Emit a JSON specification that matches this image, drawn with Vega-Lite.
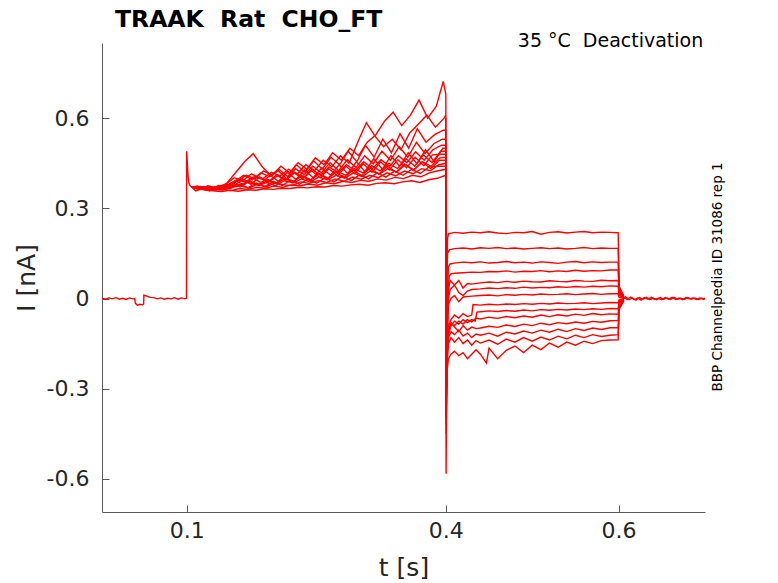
{
  "$schema": "https://vega.github.io/schema/vega-lite/v6.json",
  "description": "TRAAK Rat CHO_FT deactivation current traces",
  "width": 603,
  "height": 469,
  "autosize": {"type": "none"},
  "padding": {"left": 102, "top": 43, "right": 73, "bottom": 71},
  "background": "white",
  "title": {
    "text": "TRAAK\u00a0\u00a0Rat\u00a0\u00a0CHO_FT",
    "anchor": "start",
    "frame": "group",
    "dx": 13,
    "dy": 11,
    "offset": 11,
    "font": "DejaVu Sans",
    "fontSize": 23.5,
    "fontWeight": "bold",
    "color": "black"
  },
  "config": {
    "view": {"stroke": null},
    "axis": {
      "grid": false,
      "domainColor": "#5a5a5a",
      "tickColor": "#5a5a5a",
      "labelColor": "#262626",
      "titleColor": "#262626",
      "labelFont": "DejaVu Sans",
      "titleFont": "DejaVu Sans",
      "labelFontSize": 22,
      "titleFontSize": 25,
      "titleFontWeight": "normal",
      "tickSize": -7,
      "domainWidth": 1,
      "tickWidth": 1
    }
  },
  "layer": [
    {
      "data": {"values": [
        {"s":"b","t":0.002,"i":0.001},{"s":"b","t":0.006,"i":-0.002},{"s":"b","t":0.010,"i":0.002},{"s":"b","t":0.014,"i":-0.001},{"s":"b","t":0.018,"i":0.003},{"s":"b","t":0.022,"i":-0.002},{"s":"b","t":0.026,"i":0.001},{"s":"b","t":0.030,"i":-0.003},{"s":"b","t":0.034,"i":0.002},{"s":"b","t":0.038,"i":-0.001},{"s":"b","t":0.040,"i":0.0},{"s":"b","t":0.0405,"i":-0.015},{"s":"b","t":0.043,"i":-0.022},{"s":"b","t":0.046,"i":-0.019},{"s":"b","t":0.049,"i":-0.021},{"s":"b","t":0.0502,"i":-0.018},{"s":"b","t":0.0505,"i":0.011},{"s":"b","t":0.054,"i":0.008},{"s":"b","t":0.058,"i":0.004},{"s":"b","t":0.062,"i":0.003},{"s":"b","t":0.066,"i":-0.001},{"s":"b","t":0.070,"i":0.002},{"s":"b","t":0.074,"i":-0.002},{"s":"b","t":0.078,"i":0.001},{"s":"b","t":0.082,"i":-0.001},{"s":"b","t":0.086,"i":0.003},{"s":"b","t":0.090,"i":-0.002},{"s":"b","t":0.094,"i":0.002},{"s":"b","t":0.098,"i":-0.001},{"s":"b","t":0.0998,"i":0.001},{"s":"b","t":0.1,"i":0.49},{"s":"b","t":0.1006,"i":0.46},{"s":"b","t":0.1015,"i":0.41},{"s":"b","t":0.1025,"i":0.385},{"s":"b","t":0.104,"i":0.375},{"s":"b","t":0.106,"i":0.37},

        {"s":"p0","t":0.106,"i":0.37},{"s":"p0","t":0.110,"i":0.368},{"s":"p0","t":0.120,"i":0.362},{"s":"p0","t":0.130,"i":0.358},{"s":"p0","t":0.140,"i":0.356},{"s":"p0","t":0.150,"i":0.360},{"s":"p0","t":0.160,"i":0.357},{"s":"p0","t":0.170,"i":0.362},{"s":"p0","t":0.180,"i":0.360},{"s":"p0","t":0.190,"i":0.365},{"s":"p0","t":0.200,"i":0.363},{"s":"p0","t":0.210,"i":0.367},{"s":"p0","t":0.220,"i":0.366},{"s":"p0","t":0.230,"i":0.370},{"s":"p0","t":0.240,"i":0.368},{"s":"p0","t":0.250,"i":0.372},{"s":"p0","t":0.260,"i":0.371},{"s":"p0","t":0.270,"i":0.376},{"s":"p0","t":0.280,"i":0.374},{"s":"p0","t":0.290,"i":0.378},{"s":"p0","t":0.300,"i":0.380},{"s":"p0","t":0.310,"i":0.377},{"s":"p0","t":0.320,"i":0.383},{"s":"p0","t":0.330,"i":0.385},{"s":"p0","t":0.340,"i":0.382},{"s":"p0","t":0.350,"i":0.388},{"s":"p0","t":0.360,"i":0.392},{"s":"p0","t":0.370,"i":0.386},{"s":"p0","t":0.380,"i":0.395},{"s":"p0","t":0.390,"i":0.400},{"s":"p0","t":0.4,"i":0.41},

        {"s":"p1","t":0.106,"i":0.37},{"s":"p1","t":0.111,"i":0.372},{"s":"p1","t":0.121,"i":0.366},{"s":"p1","t":0.131,"i":0.360},{"s":"p1","t":0.141,"i":0.364},{"s":"p1","t":0.151,"i":0.359},{"s":"p1","t":0.161,"i":0.366},{"s":"p1","t":0.171,"i":0.363},{"s":"p1","t":0.181,"i":0.370},{"s":"p1","t":0.191,"i":0.367},{"s":"p1","t":0.201,"i":0.374},{"s":"p1","t":0.211,"i":0.370},{"s":"p1","t":0.221,"i":0.378},{"s":"p1","t":0.231,"i":0.375},{"s":"p1","t":0.241,"i":0.381},{"s":"p1","t":0.251,"i":0.377},{"s":"p1","t":0.261,"i":0.385},{"s":"p1","t":0.271,"i":0.382},{"s":"p1","t":0.281,"i":0.390},{"s":"p1","t":0.291,"i":0.386},{"s":"p1","t":0.301,"i":0.393},{"s":"p1","t":0.311,"i":0.390},{"s":"p1","t":0.321,"i":0.398},{"s":"p1","t":0.331,"i":0.394},{"s":"p1","t":0.341,"i":0.403},{"s":"p1","t":0.351,"i":0.399},{"s":"p1","t":0.361,"i":0.410},{"s":"p1","t":0.371,"i":0.405},{"s":"p1","t":0.381,"i":0.418},{"s":"p1","t":0.391,"i":0.425},{"s":"p1","t":0.4,"i":0.43},

        {"s":"p2","t":0.106,"i":0.37},{"s":"p2","t":0.112,"i":0.370},{"s":"p2","t":0.122,"i":0.364},{"s":"p2","t":0.132,"i":0.366},{"s":"p2","t":0.142,"i":0.361},{"s":"p2","t":0.152,"i":0.370},{"s":"p2","t":0.162,"i":0.375},{"s":"p2","t":0.172,"i":0.368},{"s":"p2","t":0.182,"i":0.380},{"s":"p2","t":0.192,"i":0.372},{"s":"p2","t":0.202,"i":0.384},{"s":"p2","t":0.212,"i":0.378},{"s":"p2","t":0.222,"i":0.376},{"s":"p2","t":0.232,"i":0.388},{"s":"p2","t":0.242,"i":0.383},{"s":"p2","t":0.252,"i":0.392},{"s":"p2","t":0.262,"i":0.386},{"s":"p2","t":0.272,"i":0.398},{"s":"p2","t":0.282,"i":0.390},{"s":"p2","t":0.292,"i":0.404},{"s":"p2","t":0.302,"i":0.397},{"s":"p2","t":0.312,"i":0.410},{"s":"p2","t":0.322,"i":0.402},{"s":"p2","t":0.332,"i":0.418},{"s":"p2","t":0.342,"i":0.408},{"s":"p2","t":0.352,"i":0.424},{"s":"p2","t":0.362,"i":0.415},{"s":"p2","t":0.372,"i":0.432},{"s":"p2","t":0.382,"i":0.425},{"s":"p2","t":0.392,"i":0.445},{"s":"p2","t":0.4,"i":0.45},

        {"s":"p3","t":0.106,"i":0.37},{"s":"p3","t":0.113,"i":0.366},{"s":"p3","t":0.123,"i":0.370},{"s":"p3","t":0.133,"i":0.362},{"s":"p3","t":0.143,"i":0.368},{"s":"p3","t":0.153,"i":0.372},{"s":"p3","t":0.163,"i":0.380},{"s":"p3","t":0.173,"i":0.390},{"s":"p3","t":0.183,"i":0.378},{"s":"p3","t":0.193,"i":0.386},{"s":"p3","t":0.203,"i":0.375},{"s":"p3","t":0.213,"i":0.392},{"s":"p3","t":0.223,"i":0.384},{"s":"p3","t":0.233,"i":0.398},{"s":"p3","t":0.243,"i":0.388},{"s":"p3","t":0.253,"i":0.404},{"s":"p3","t":0.263,"i":0.395},{"s":"p3","t":0.273,"i":0.410},{"s":"p3","t":0.283,"i":0.400},{"s":"p3","t":0.293,"i":0.418},{"s":"p3","t":0.303,"i":0.405},{"s":"p3","t":0.313,"i":0.425},{"s":"p3","t":0.323,"i":0.414},{"s":"p3","t":0.333,"i":0.432},{"s":"p3","t":0.343,"i":0.420},{"s":"p3","t":0.353,"i":0.445},{"s":"p3","t":0.363,"i":0.428},{"s":"p3","t":0.373,"i":0.455},{"s":"p3","t":0.383,"i":0.440},{"s":"p3","t":0.393,"i":0.468},{"s":"p3","t":0.4,"i":0.47},

        {"s":"p4","t":0.106,"i":0.37},{"s":"p4","t":0.114,"i":0.371},{"s":"p4","t":0.124,"i":0.365},{"s":"p4","t":0.134,"i":0.368},{"s":"p4","t":0.144,"i":0.372},{"s":"p4","t":0.154,"i":0.385},{"s":"p4","t":0.164,"i":0.398},{"s":"p4","t":0.174,"i":0.385},{"s":"p4","t":0.184,"i":0.376},{"s":"p4","t":0.194,"i":0.395},{"s":"p4","t":0.204,"i":0.382},{"s":"p4","t":0.214,"i":0.400},{"s":"p4","t":0.224,"i":0.390},{"s":"p4","t":0.234,"i":0.408},{"s":"p4","t":0.244,"i":0.395},{"s":"p4","t":0.254,"i":0.415},{"s":"p4","t":0.264,"i":0.400},{"s":"p4","t":0.274,"i":0.425},{"s":"p4","t":0.284,"i":0.410},{"s":"p4","t":0.294,"i":0.432},{"s":"p4","t":0.304,"i":0.418},{"s":"p4","t":0.314,"i":0.442},{"s":"p4","t":0.324,"i":0.425},{"s":"p4","t":0.334,"i":0.450},{"s":"p4","t":0.344,"i":0.432},{"s":"p4","t":0.354,"i":0.465},{"s":"p4","t":0.364,"i":0.440},{"s":"p4","t":0.374,"i":0.478},{"s":"p4","t":0.384,"i":0.452},{"s":"p4","t":0.394,"i":0.490},{"s":"p4","t":0.4,"i":0.49},

        {"s":"p5","t":0.106,"i":0.37},{"s":"p5","t":0.115,"i":0.369},{"s":"p5","t":0.125,"i":0.363},{"s":"p5","t":0.135,"i":0.370},{"s":"p5","t":0.145,"i":0.380},{"s":"p5","t":0.155,"i":0.402},{"s":"p5","t":0.165,"i":0.392},{"s":"p5","t":0.175,"i":0.415},{"s":"p5","t":0.185,"i":0.400},{"s":"p5","t":0.195,"i":0.388},{"s":"p5","t":0.205,"i":0.408},{"s":"p5","t":0.215,"i":0.395},{"s":"p5","t":0.225,"i":0.420},{"s":"p5","t":0.235,"i":0.402},{"s":"p5","t":0.245,"i":0.430},{"s":"p5","t":0.255,"i":0.410},{"s":"p5","t":0.265,"i":0.438},{"s":"p5","t":0.275,"i":0.418},{"s":"p5","t":0.285,"i":0.445},{"s":"p5","t":0.295,"i":0.425},{"s":"p5","t":0.305,"i":0.455},{"s":"p5","t":0.315,"i":0.432},{"s":"p5","t":0.325,"i":0.462},{"s":"p5","t":0.335,"i":0.440},{"s":"p5","t":0.345,"i":0.475},{"s":"p5","t":0.355,"i":0.452},{"s":"p5","t":0.365,"i":0.488},{"s":"p5","t":0.375,"i":0.460},{"s":"p5","t":0.385,"i":0.495},{"s":"p5","t":0.395,"i":0.510},{"s":"p5","t":0.4,"i":0.51},

        {"s":"p6","t":0.106,"i":0.37},{"s":"p6","t":0.116,"i":0.373},{"s":"p6","t":0.126,"i":0.367},{"s":"p6","t":0.136,"i":0.364},{"s":"p6","t":0.146,"i":0.376},{"s":"p6","t":0.156,"i":0.390},{"s":"p6","t":0.166,"i":0.410},{"s":"p6","t":0.176,"i":0.395},{"s":"p6","t":0.186,"i":0.418},{"s":"p6","t":0.196,"i":0.405},{"s":"p6","t":0.206,"i":0.425},{"s":"p6","t":0.216,"i":0.398},{"s":"p6","t":0.226,"i":0.432},{"s":"p6","t":0.236,"i":0.412},{"s":"p6","t":0.246,"i":0.440},{"s":"p6","t":0.256,"i":0.418},{"s":"p6","t":0.266,"i":0.452},{"s":"p6","t":0.276,"i":0.425},{"s":"p6","t":0.286,"i":0.462},{"s":"p6","t":0.296,"i":0.435},{"s":"p6","t":0.306,"i":0.475},{"s":"p6","t":0.316,"i":0.448},{"s":"p6","t":0.326,"i":0.490},{"s":"p6","t":0.336,"i":0.460},{"s":"p6","t":0.346,"i":0.505},{"s":"p6","t":0.356,"i":0.470},{"s":"p6","t":0.366,"i":0.520},{"s":"p6","t":0.376,"i":0.482},{"s":"p6","t":0.386,"i":0.515},{"s":"p6","t":0.396,"i":0.530},{"s":"p6","t":0.4,"i":0.53},

        {"s":"p7","t":0.106,"i":0.37},{"s":"p7","t":0.117,"i":0.367},{"s":"p7","t":0.127,"i":0.372},{"s":"p7","t":0.137,"i":0.365},{"s":"p7","t":0.147,"i":0.385},{"s":"p7","t":0.157,"i":0.420},{"s":"p7","t":0.167,"i":0.455},{"s":"p7","t":0.177,"i":0.482},{"s":"p7","t":0.187,"i":0.440},{"s":"p7","t":0.197,"i":0.410},{"s":"p7","t":0.207,"i":0.430},{"s":"p7","t":0.217,"i":0.405},{"s":"p7","t":0.227,"i":0.445},{"s":"p7","t":0.237,"i":0.420},{"s":"p7","t":0.247,"i":0.458},{"s":"p7","t":0.257,"i":0.430},{"s":"p7","t":0.267,"i":0.470},{"s":"p7","t":0.277,"i":0.445},{"s":"p7","t":0.287,"i":0.490},{"s":"p7","t":0.297,"i":0.455},{"s":"p7","t":0.307,"i":0.510},{"s":"p7","t":0.317,"i":0.470},{"s":"p7","t":0.327,"i":0.530},{"s":"p7","t":0.337,"i":0.485},{"s":"p7","t":0.347,"i":0.548},{"s":"p7","t":0.357,"i":0.500},{"s":"p7","t":0.367,"i":0.565},{"s":"p7","t":0.377,"i":0.520},{"s":"p7","t":0.387,"i":0.545},{"s":"p7","t":0.397,"i":0.560},{"s":"p7","t":0.4,"i":0.56},

        {"s":"p8","t":0.106,"i":0.37},{"s":"p8","t":0.118,"i":0.370},{"s":"p8","t":0.128,"i":0.364},{"s":"p8","t":0.138,"i":0.368},{"s":"p8","t":0.148,"i":0.378},{"s":"p8","t":0.158,"i":0.395},{"s":"p8","t":0.168,"i":0.388},{"s":"p8","t":0.178,"i":0.405},{"s":"p8","t":0.188,"i":0.398},{"s":"p8","t":0.198,"i":0.420},{"s":"p8","t":0.208,"i":0.408},{"s":"p8","t":0.218,"i":0.430},{"s":"p8","t":0.228,"i":0.415},{"s":"p8","t":0.238,"i":0.445},{"s":"p8","t":0.248,"i":0.425},{"s":"p8","t":0.258,"i":0.460},{"s":"p8","t":0.268,"i":0.438},{"s":"p8","t":0.278,"i":0.475},{"s":"p8","t":0.288,"i":0.450},{"s":"p8","t":0.298,"i":0.520},{"s":"p8","t":0.308,"i":0.585},{"s":"p8","t":0.318,"i":0.540},{"s":"p8","t":0.328,"i":0.505},{"s":"p8","t":0.338,"i":0.530},{"s":"p8","t":0.348,"i":0.495},{"s":"p8","t":0.358,"i":0.550},{"s":"p8","t":0.368,"i":0.580},{"s":"p8","t":0.378,"i":0.610},{"s":"p8","t":0.388,"i":0.570},{"s":"p8","t":0.398,"i":0.600},{"s":"p8","t":0.4,"i":0.61},

        {"s":"p9","t":0.106,"i":0.37},{"s":"p9","t":0.119,"i":0.372},{"s":"p9","t":0.129,"i":0.366},{"s":"p9","t":0.139,"i":0.362},{"s":"p9","t":0.149,"i":0.370},{"s":"p9","t":0.159,"i":0.392},{"s":"p9","t":0.169,"i":0.410},{"s":"p9","t":0.179,"i":0.398},{"s":"p9","t":0.189,"i":0.425},{"s":"p9","t":0.199,"i":0.410},{"s":"p9","t":0.209,"i":0.440},{"s":"p9","t":0.219,"i":0.418},{"s":"p9","t":0.229,"i":0.452},{"s":"p9","t":0.239,"i":0.430},{"s":"p9","t":0.249,"i":0.468},{"s":"p9","t":0.259,"i":0.445},{"s":"p9","t":0.269,"i":0.485},{"s":"p9","t":0.279,"i":0.460},{"s":"p9","t":0.289,"i":0.500},{"s":"p9","t":0.299,"i":0.475},{"s":"p9","t":0.309,"i":0.520},{"s":"p9","t":0.319,"i":0.545},{"s":"p9","t":0.329,"i":0.590},{"s":"p9","t":0.339,"i":0.620},{"s":"p9","t":0.349,"i":0.575},{"s":"p9","t":0.359,"i":0.610},{"s":"p9","t":0.369,"i":0.660},{"s":"p9","t":0.379,"i":0.600},{"s":"p9","t":0.389,"i":0.640},{"s":"p9","t":0.397,"i":0.722},{"s":"p9","t":0.4,"i":0.68},

        {"s":"p10","t":0.106,"i":0.37},{"s":"p10","t":0.1105,"i":0.358},{"s":"p10","t":0.1205,"i":0.370},{"s":"p10","t":0.1305,"i":0.361},{"s":"p10","t":0.1405,"i":0.374},{"s":"p10","t":0.1505,"i":0.366},{"s":"p10","t":0.1605,"i":0.380},{"s":"p10","t":0.1705,"i":0.368},{"s":"p10","t":0.1805,"i":0.384},{"s":"p10","t":0.1905,"i":0.372},{"s":"p10","t":0.2005,"i":0.390},{"s":"p10","t":0.2105,"i":0.376},{"s":"p10","t":0.2205,"i":0.394},{"s":"p10","t":0.2305,"i":0.380},{"s":"p10","t":0.2405,"i":0.398},{"s":"p10","t":0.2505,"i":0.384},{"s":"p10","t":0.2605,"i":0.402},{"s":"p10","t":0.2705,"i":0.388},{"s":"p10","t":0.2805,"i":0.408},{"s":"p10","t":0.2905,"i":0.392},{"s":"p10","t":0.3005,"i":0.412},{"s":"p10","t":0.3105,"i":0.398},{"s":"p10","t":0.3205,"i":0.418},{"s":"p10","t":0.3305,"i":0.404},{"s":"p10","t":0.3405,"i":0.424},{"s":"p10","t":0.3505,"i":0.410},{"s":"p10","t":0.3605,"i":0.430},{"s":"p10","t":0.3705,"i":0.416},{"s":"p10","t":0.3805,"i":0.438},{"s":"p10","t":0.3905,"i":0.440},{"s":"p10","t":0.4,"i":0.44},

        {"s":"p11","t":0.106,"i":0.37},{"s":"p11","t":0.1125,"i":0.374},{"s":"p11","t":0.1225,"i":0.360},{"s":"p11","t":0.1325,"i":0.372},{"s":"p11","t":0.1425,"i":0.366},{"s":"p11","t":0.1525,"i":0.384},{"s":"p11","t":0.1625,"i":0.372},{"s":"p11","t":0.1725,"i":0.392},{"s":"p11","t":0.1825,"i":0.378},{"s":"p11","t":0.1925,"i":0.398},{"s":"p11","t":0.2025,"i":0.382},{"s":"p11","t":0.2125,"i":0.404},{"s":"p11","t":0.2225,"i":0.386},{"s":"p11","t":0.2325,"i":0.410},{"s":"p11","t":0.2425,"i":0.392},{"s":"p11","t":0.2525,"i":0.416},{"s":"p11","t":0.2625,"i":0.398},{"s":"p11","t":0.2725,"i":0.420},{"s":"p11","t":0.2825,"i":0.402},{"s":"p11","t":0.2925,"i":0.428},{"s":"p11","t":0.3025,"i":0.408},{"s":"p11","t":0.3125,"i":0.434},{"s":"p11","t":0.3225,"i":0.414},{"s":"p11","t":0.3325,"i":0.440},{"s":"p11","t":0.3425,"i":0.420},{"s":"p11","t":0.3525,"i":0.448},{"s":"p11","t":0.3625,"i":0.426},{"s":"p11","t":0.3725,"i":0.455},{"s":"p11","t":0.3825,"i":0.432},{"s":"p11","t":0.3925,"i":0.460},{"s":"p11","t":0.4,"i":0.46},

        {"s":"p12","t":0.106,"i":0.37},{"s":"p12","t":0.1145,"i":0.362},{"s":"p12","t":0.1245,"i":0.375},{"s":"p12","t":0.1345,"i":0.368},{"s":"p12","t":0.1445,"i":0.380},{"s":"p12","t":0.1545,"i":0.375},{"s":"p12","t":0.1645,"i":0.395},{"s":"p12","t":0.1745,"i":0.380},{"s":"p12","t":0.1845,"i":0.405},{"s":"p12","t":0.1945,"i":0.388},{"s":"p12","t":0.2045,"i":0.412},{"s":"p12","t":0.2145,"i":0.392},{"s":"p12","t":0.2245,"i":0.418},{"s":"p12","t":0.2345,"i":0.398},{"s":"p12","t":0.2445,"i":0.425},{"s":"p12","t":0.2545,"i":0.402},{"s":"p12","t":0.2645,"i":0.432},{"s":"p12","t":0.2745,"i":0.408},{"s":"p12","t":0.2845,"i":0.440},{"s":"p12","t":0.2945,"i":0.415},{"s":"p12","t":0.3045,"i":0.448},{"s":"p12","t":0.3145,"i":0.420},{"s":"p12","t":0.3245,"i":0.455},{"s":"p12","t":0.3345,"i":0.428},{"s":"p12","t":0.3445,"i":0.462},{"s":"p12","t":0.3545,"i":0.435},{"s":"p12","t":0.3645,"i":0.470},{"s":"p12","t":0.3745,"i":0.442},{"s":"p12","t":0.3845,"i":0.478},{"s":"p12","t":0.3945,"i":0.480},{"s":"p12","t":0.4,"i":0.48},

        {"s":"p13","t":0.106,"i":0.37},{"s":"p13","t":0.1165,"i":0.369},{"s":"p13","t":0.1265,"i":0.358},{"s":"p13","t":0.1365,"i":0.376},{"s":"p13","t":0.1465,"i":0.370},{"s":"p13","t":0.1565,"i":0.392},{"s":"p13","t":0.1665,"i":0.378},{"s":"p13","t":0.1765,"i":0.402},{"s":"p13","t":0.1865,"i":0.385},{"s":"p13","t":0.1965,"i":0.410},{"s":"p13","t":0.2065,"i":0.390},{"s":"p13","t":0.2165,"i":0.420},{"s":"p13","t":0.2265,"i":0.396},{"s":"p13","t":0.2365,"i":0.428},{"s":"p13","t":0.2465,"i":0.402},{"s":"p13","t":0.2565,"i":0.435},{"s":"p13","t":0.2665,"i":0.410},{"s":"p13","t":0.2765,"i":0.445},{"s":"p13","t":0.2865,"i":0.415},{"s":"p13","t":0.2965,"i":0.455},{"s":"p13","t":0.3065,"i":0.422},{"s":"p13","t":0.3165,"i":0.465},{"s":"p13","t":0.3265,"i":0.430},{"s":"p13","t":0.3365,"i":0.475},{"s":"p13","t":0.3465,"i":0.440},{"s":"p13","t":0.3565,"i":0.485},{"s":"p13","t":0.3665,"i":0.448},{"s":"p13","t":0.3765,"i":0.495},{"s":"p13","t":0.3865,"i":0.455},{"s":"p13","t":0.3965,"i":0.500},{"s":"p13","t":0.4,"i":0.50},

        {"s":"q0","t":0.4,"i":0.68},{"s":"q0","t":0.4004,"i":-0.35},{"s":"q0","t":0.4012,"i":0.10},{"s":"q0","t":0.402,"i":0.20},{"s":"q0","t":0.403,"i":0.215},{"s":"q0","t":0.41,"i":0.220},{"s":"q0","t":0.42,"i":0.217},{"s":"q0","t":0.43,"i":0.221},{"s":"q0","t":0.44,"i":0.219},{"s":"q0","t":0.45,"i":0.222},{"s":"q0","t":0.46,"i":0.218},{"s":"q0","t":0.47,"i":0.216},{"s":"q0","t":0.48,"i":0.220},{"s":"q0","t":0.49,"i":0.219},{"s":"q0","t":0.50,"i":0.223},{"s":"q0","t":0.51,"i":0.214},{"s":"q0","t":0.52,"i":0.220},{"s":"q0","t":0.53,"i":0.222},{"s":"q0","t":0.54,"i":0.218},{"s":"q0","t":0.55,"i":0.221},{"s":"q0","t":0.56,"i":0.223},{"s":"q0","t":0.57,"i":0.219},{"s":"q0","t":0.58,"i":0.221},{"s":"q0","t":0.59,"i":0.220},{"s":"q0","t":0.5995,"i":0.219},{"s":"q0","t":0.6006,"i":0.04},{"s":"q0","t":0.606,"i":0.01},

        {"s":"q1","t":0.4,"i":0.60},{"s":"q1","t":0.4004,"i":-0.25},{"s":"q1","t":0.4012,"i":0.05},{"s":"q1","t":0.402,"i":0.15},{"s":"q1","t":0.404,"i":0.162},{"s":"q1","t":0.41,"i":0.166},{"s":"q1","t":0.42,"i":0.168},{"s":"q1","t":0.43,"i":0.165},{"s":"q1","t":0.44,"i":0.169},{"s":"q1","t":0.45,"i":0.167},{"s":"q1","t":0.46,"i":0.170},{"s":"q1","t":0.47,"i":0.166},{"s":"q1","t":0.48,"i":0.168},{"s":"q1","t":0.49,"i":0.165},{"s":"q1","t":0.50,"i":0.167},{"s":"q1","t":0.51,"i":0.169},{"s":"q1","t":0.52,"i":0.166},{"s":"q1","t":0.53,"i":0.168},{"s":"q1","t":0.54,"i":0.165},{"s":"q1","t":0.55,"i":0.167},{"s":"q1","t":0.56,"i":0.170},{"s":"q1","t":0.57,"i":0.166},{"s":"q1","t":0.58,"i":0.168},{"s":"q1","t":0.59,"i":0.167},{"s":"q1","t":0.5995,"i":0.167},{"s":"q1","t":0.6006,"i":0.03},{"s":"q1","t":0.606,"i":0.008},

        {"s":"q2","t":0.4,"i":0.56},{"s":"q2","t":0.4004,"i":-0.20},{"s":"q2","t":0.4015,"i":0.0},{"s":"q2","t":0.403,"i":0.105},{"s":"q2","t":0.405,"i":0.115},{"s":"q2","t":0.41,"i":0.118},{"s":"q2","t":0.42,"i":0.121},{"s":"q2","t":0.43,"i":0.119},{"s":"q2","t":0.44,"i":0.122},{"s":"q2","t":0.45,"i":0.118},{"s":"q2","t":0.46,"i":0.120},{"s":"q2","t":0.47,"i":0.123},{"s":"q2","t":0.48,"i":0.119},{"s":"q2","t":0.49,"i":0.121},{"s":"q2","t":0.50,"i":0.118},{"s":"q2","t":0.51,"i":0.122},{"s":"q2","t":0.52,"i":0.120},{"s":"q2","t":0.53,"i":0.117},{"s":"q2","t":0.54,"i":0.121},{"s":"q2","t":0.55,"i":0.123},{"s":"q2","t":0.56,"i":0.119},{"s":"q2","t":0.57,"i":0.122},{"s":"q2","t":0.58,"i":0.120},{"s":"q2","t":0.59,"i":0.121},{"s":"q2","t":0.5995,"i":0.121},{"s":"q2","t":0.6006,"i":0.025},{"s":"q2","t":0.606,"i":0.006},

        {"s":"q3","t":0.4,"i":0.53},{"s":"q3","t":0.4003,"i":-0.583},{"s":"q3","t":0.401,"i":-0.30},{"s":"q3","t":0.402,"i":0.0},{"s":"q3","t":0.404,"i":0.075},{"s":"q3","t":0.406,"i":0.082},{"s":"q3","t":0.41,"i":0.084},{"s":"q3","t":0.42,"i":0.086},{"s":"q3","t":0.43,"i":0.088},{"s":"q3","t":0.44,"i":0.087},{"s":"q3","t":0.45,"i":0.090},{"s":"q3","t":0.46,"i":0.089},{"s":"q3","t":0.47,"i":0.092},{"s":"q3","t":0.48,"i":0.088},{"s":"q3","t":0.49,"i":0.091},{"s":"q3","t":0.50,"i":0.090},{"s":"q3","t":0.51,"i":0.093},{"s":"q3","t":0.52,"i":0.089},{"s":"q3","t":0.53,"i":0.092},{"s":"q3","t":0.54,"i":0.090},{"s":"q3","t":0.55,"i":0.094},{"s":"q3","t":0.56,"i":0.091},{"s":"q3","t":0.57,"i":0.093},{"s":"q3","t":0.58,"i":0.092},{"s":"q3","t":0.59,"i":0.095},{"s":"q3","t":0.5995,"i":0.095},{"s":"q3","t":0.6006,"i":0.02},{"s":"q3","t":0.606,"i":0.005},

        {"s":"q4","t":0.4,"i":0.51},{"s":"q4","t":0.4004,"i":-0.45},{"s":"q4","t":0.4015,"i":-0.10},{"s":"q4","t":0.403,"i":0.03},{"s":"q4","t":0.405,"i":0.06},{"s":"q4","t":0.41,"i":0.045},{"s":"q4","t":0.415,"i":0.06},{"s":"q4","t":0.42,"i":0.035},{"s":"q4","t":0.425,"i":0.05},{"s":"q4","t":0.43,"i":0.048},{"s":"q4","t":0.44,"i":0.052},{"s":"q4","t":0.45,"i":0.055},{"s":"q4","t":0.46,"i":0.053},{"s":"q4","t":0.47,"i":0.057},{"s":"q4","t":0.48,"i":0.054},{"s":"q4","t":0.49,"i":0.058},{"s":"q4","t":0.50,"i":0.056},{"s":"q4","t":0.51,"i":0.055},{"s":"q4","t":0.52,"i":0.059},{"s":"q4","t":0.53,"i":0.057},{"s":"q4","t":0.54,"i":0.056},{"s":"q4","t":0.55,"i":0.060},{"s":"q4","t":0.56,"i":0.058},{"s":"q4","t":0.57,"i":0.057},{"s":"q4","t":0.58,"i":0.061},{"s":"q4","t":0.59,"i":0.059},{"s":"q4","t":0.5995,"i":0.060},{"s":"q4","t":0.6006,"i":0.015},{"s":"q4","t":0.606,"i":0.004},

        {"s":"q5","t":0.4,"i":0.49},{"s":"q5","t":0.4004,"i":-0.40},{"s":"q5","t":0.4015,"i":-0.15},{"s":"q5","t":0.403,"i":0.0},{"s":"q5","t":0.405,"i":0.03},{"s":"q5","t":0.41,"i":0.045},{"s":"q5","t":0.415,"i":0.02},{"s":"q5","t":0.42,"i":0.01},{"s":"q5","t":0.425,"i":0.025},{"s":"q5","t":0.43,"i":0.03},{"s":"q5","t":0.44,"i":0.032},{"s":"q5","t":0.45,"i":0.035},{"s":"q5","t":0.46,"i":0.033},{"s":"q5","t":0.47,"i":0.036},{"s":"q5","t":0.48,"i":0.034},{"s":"q5","t":0.49,"i":0.038},{"s":"q5","t":0.50,"i":0.035},{"s":"q5","t":0.51,"i":0.037},{"s":"q5","t":0.52,"i":0.036},{"s":"q5","t":0.53,"i":0.039},{"s":"q5","t":0.54,"i":0.037},{"s":"q5","t":0.55,"i":0.040},{"s":"q5","t":0.56,"i":0.038},{"s":"q5","t":0.57,"i":0.041},{"s":"q5","t":0.58,"i":0.039},{"s":"q5","t":0.59,"i":0.042},{"s":"q5","t":0.5995,"i":0.041},{"s":"q5","t":0.6006,"i":0.01},{"s":"q5","t":0.606,"i":0.003},

        {"s":"q6","t":0.4,"i":0.47},{"s":"q6","t":0.4004,"i":-0.35},{"s":"q6","t":0.4015,"i":-0.12},{"s":"q6","t":0.403,"i":-0.02},{"s":"q6","t":0.406,"i":0.0},{"s":"q6","t":0.41,"i":0.01},{"s":"q6","t":0.415,"i":-0.01},{"s":"q6","t":0.42,"i":0.005},{"s":"q6","t":0.43,"i":0.008},{"s":"q6","t":0.44,"i":0.010},{"s":"q6","t":0.45,"i":0.012},{"s":"q6","t":0.46,"i":0.009},{"s":"q6","t":0.47,"i":0.013},{"s":"q6","t":0.48,"i":0.011},{"s":"q6","t":0.49,"i":0.014},{"s":"q6","t":0.50,"i":0.012},{"s":"q6","t":0.51,"i":0.015},{"s":"q6","t":0.52,"i":0.013},{"s":"q6","t":0.53,"i":0.014},{"s":"q6","t":0.54,"i":0.016},{"s":"q6","t":0.55,"i":0.013},{"s":"q6","t":0.56,"i":0.015},{"s":"q6","t":0.57,"i":0.017},{"s":"q6","t":0.58,"i":0.014},{"s":"q6","t":0.59,"i":0.016},{"s":"q6","t":0.5995,"i":0.016},{"s":"q6","t":0.6006,"i":0.004},{"s":"q6","t":0.606,"i":0.001},

        {"s":"q7","t":0.4,"i":0.45},{"s":"q7","t":0.4004,"i":-0.42},{"s":"q7","t":0.4015,"i":-0.20},{"s":"q7","t":0.403,"i":-0.09},{"s":"q7","t":0.406,"i":-0.07},{"s":"q7","t":0.41,"i":-0.055},{"s":"q7","t":0.415,"i":-0.065},{"s":"q7","t":0.42,"i":-0.05},{"s":"q7","t":0.425,"i":-0.06},{"s":"q7","t":0.43,"i":-0.055},{"s":"q7","t":0.4315,"i":-0.02},{"s":"q7","t":0.44,"i":-0.022},{"s":"q7","t":0.45,"i":-0.019},{"s":"q7","t":0.46,"i":-0.021},{"s":"q7","t":0.47,"i":-0.018},{"s":"q7","t":0.48,"i":-0.020},{"s":"q7","t":0.49,"i":-0.017},{"s":"q7","t":0.50,"i":-0.019},{"s":"q7","t":0.51,"i":-0.016},{"s":"q7","t":0.52,"i":-0.018},{"s":"q7","t":0.53,"i":-0.015},{"s":"q7","t":0.54,"i":-0.017},{"s":"q7","t":0.55,"i":-0.016},{"s":"q7","t":0.56,"i":-0.014},{"s":"q7","t":0.57,"i":-0.017},{"s":"q7","t":0.58,"i":-0.015},{"s":"q7","t":0.59,"i":-0.013},{"s":"q7","t":0.5995,"i":-0.014},{"s":"q7","t":0.6006,"i":-0.004},{"s":"q7","t":0.606,"i":-0.001},

        {"s":"q8","t":0.4,"i":0.43},{"s":"q8","t":0.4004,"i":-0.38},{"s":"q8","t":0.4015,"i":-0.22},{"s":"q8","t":0.403,"i":-0.12},{"s":"q8","t":0.406,"i":-0.09},{"s":"q8","t":0.41,"i":-0.075},{"s":"q8","t":0.415,"i":-0.085},{"s":"q8","t":0.42,"i":-0.07},{"s":"q8","t":0.425,"i":-0.08},{"s":"q8","t":0.43,"i":-0.07},{"s":"q8","t":0.434,"i":-0.075},{"s":"q8","t":0.436,"i":-0.045},{"s":"q8","t":0.44,"i":-0.044},{"s":"q8","t":0.45,"i":-0.041},{"s":"q8","t":0.46,"i":-0.043},{"s":"q8","t":0.47,"i":-0.040},{"s":"q8","t":0.48,"i":-0.042},{"s":"q8","t":0.49,"i":-0.038},{"s":"q8","t":0.50,"i":-0.041},{"s":"q8","t":0.51,"i":-0.037},{"s":"q8","t":0.52,"i":-0.039},{"s":"q8","t":0.53,"i":-0.036},{"s":"q8","t":0.54,"i":-0.038},{"s":"q8","t":0.55,"i":-0.035},{"s":"q8","t":0.56,"i":-0.037},{"s":"q8","t":0.57,"i":-0.034},{"s":"q8","t":0.58,"i":-0.036},{"s":"q8","t":0.59,"i":-0.033},{"s":"q8","t":0.5995,"i":-0.034},{"s":"q8","t":0.6006,"i":-0.008},{"s":"q8","t":0.606,"i":-0.002},

        {"s":"q9","t":0.4,"i":0.42},{"s":"q9","t":0.4004,"i":-0.32},{"s":"q9","t":0.4015,"i":-0.18},{"s":"q9","t":0.403,"i":-0.11},{"s":"q9","t":0.406,"i":-0.085},{"s":"q9","t":0.41,"i":-0.09},{"s":"q9","t":0.415,"i":-0.075},{"s":"q9","t":0.42,"i":-0.085},{"s":"q9","t":0.425,"i":-0.07},{"s":"q9","t":0.43,"i":-0.078},{"s":"q9","t":0.435,"i":-0.065},{"s":"q9","t":0.44,"i":-0.068},{"s":"q9","t":0.45,"i":-0.062},{"s":"q9","t":0.46,"i":-0.066},{"s":"q9","t":0.47,"i":-0.060},{"s":"q9","t":0.48,"i":-0.064},{"s":"q9","t":0.49,"i":-0.058},{"s":"q9","t":0.50,"i":-0.062},{"s":"q9","t":0.51,"i":-0.055},{"s":"q9","t":0.52,"i":-0.060},{"s":"q9","t":0.53,"i":-0.054},{"s":"q9","t":0.54,"i":-0.058},{"s":"q9","t":0.55,"i":-0.052},{"s":"q9","t":0.56,"i":-0.056},{"s":"q9","t":0.57,"i":-0.050},{"s":"q9","t":0.58,"i":-0.054},{"s":"q9","t":0.59,"i":-0.051},{"s":"q9","t":0.5995,"i":-0.052},{"s":"q9","t":0.6006,"i":-0.012},{"s":"q9","t":0.606,"i":-0.003},

        {"s":"q10","t":0.4,"i":0.50},{"s":"q10","t":0.4004,"i":-0.30},{"s":"q10","t":0.4015,"i":-0.16},{"s":"q10","t":0.403,"i":-0.10},{"s":"q10","t":0.406,"i":-0.08},{"s":"q10","t":0.41,"i":-0.095},{"s":"q10","t":0.415,"i":-0.11},{"s":"q10","t":0.42,"i":-0.09},{"s":"q10","t":0.425,"i":-0.105},{"s":"q10","t":0.43,"i":-0.095},{"s":"q10","t":0.435,"i":-0.10},{"s":"q10","t":0.44,"i":-0.098},{"s":"q10","t":0.45,"i":-0.092},{"s":"q10","t":0.46,"i":-0.096},{"s":"q10","t":0.47,"i":-0.088},{"s":"q10","t":0.48,"i":-0.093},{"s":"q10","t":0.49,"i":-0.085},{"s":"q10","t":0.50,"i":-0.090},{"s":"q10","t":0.51,"i":-0.082},{"s":"q10","t":0.52,"i":-0.087},{"s":"q10","t":0.53,"i":-0.080},{"s":"q10","t":0.54,"i":-0.084},{"s":"q10","t":0.55,"i":-0.078},{"s":"q10","t":0.56,"i":-0.082},{"s":"q10","t":0.57,"i":-0.076},{"s":"q10","t":0.58,"i":-0.079},{"s":"q10","t":0.59,"i":-0.074},{"s":"q10","t":0.5995,"i":-0.073},{"s":"q10","t":0.6006,"i":-0.018},{"s":"q10","t":0.606,"i":-0.004},

        {"s":"q11","t":0.4,"i":0.48},{"s":"q11","t":0.4004,"i":-0.28},{"s":"q11","t":0.4015,"i":-0.18},{"s":"q11","t":0.403,"i":-0.13},{"s":"q11","t":0.406,"i":-0.11},{"s":"q11","t":0.41,"i":-0.12},{"s":"q11","t":0.415,"i":-0.105},{"s":"q11","t":0.42,"i":-0.125},{"s":"q11","t":0.425,"i":-0.115},{"s":"q11","t":0.43,"i":-0.13},{"s":"q11","t":0.435,"i":-0.118},{"s":"q11","t":0.44,"i":-0.122},{"s":"q11","t":0.45,"i":-0.115},{"s":"q11","t":0.46,"i":-0.125},{"s":"q11","t":0.47,"i":-0.112},{"s":"q11","t":0.48,"i":-0.118},{"s":"q11","t":0.49,"i":-0.108},{"s":"q11","t":0.50,"i":-0.115},{"s":"q11","t":0.51,"i":-0.105},{"s":"q11","t":0.52,"i":-0.112},{"s":"q11","t":0.53,"i":-0.102},{"s":"q11","t":0.54,"i":-0.110},{"s":"q11","t":0.55,"i":-0.100},{"s":"q11","t":0.56,"i":-0.106},{"s":"q11","t":0.57,"i":-0.098},{"s":"q11","t":0.58,"i":-0.103},{"s":"q11","t":0.59,"i":-0.097},{"s":"q11","t":0.5995,"i":-0.097},{"s":"q11","t":0.6006,"i":-0.025},{"s":"q11","t":0.606,"i":-0.006},

        {"s":"q12","t":0.4,"i":0.46},{"s":"q12","t":0.4004,"i":-0.30},{"s":"q12","t":0.4015,"i":-0.20},{"s":"q12","t":0.403,"i":-0.15},{"s":"q12","t":0.406,"i":-0.13},{"s":"q12","t":0.41,"i":-0.145},{"s":"q12","t":0.415,"i":-0.13},{"s":"q12","t":0.42,"i":-0.15},{"s":"q12","t":0.425,"i":-0.138},{"s":"q12","t":0.43,"i":-0.155},{"s":"q12","t":0.435,"i":-0.14},{"s":"q12","t":0.44,"i":-0.148},{"s":"q12","t":0.45,"i":-0.138},{"s":"q12","t":0.46,"i":-0.152},{"s":"q12","t":0.47,"i":-0.135},{"s":"q12","t":0.48,"i":-0.145},{"s":"q12","t":0.49,"i":-0.130},{"s":"q12","t":0.50,"i":-0.142},{"s":"q12","t":0.51,"i":-0.128},{"s":"q12","t":0.52,"i":-0.138},{"s":"q12","t":0.53,"i":-0.125},{"s":"q12","t":0.54,"i":-0.134},{"s":"q12","t":0.55,"i":-0.122},{"s":"q12","t":0.56,"i":-0.130},{"s":"q12","t":0.57,"i":-0.120},{"s":"q12","t":0.58,"i":-0.126},{"s":"q12","t":0.59,"i":-0.122},{"s":"q12","t":0.5995,"i":-0.120},{"s":"q12","t":0.6006,"i":-0.03},{"s":"q12","t":0.606,"i":-0.007},

        {"s":"q13","t":0.4,"i":0.44},{"s":"q13","t":0.4004,"i":-0.35},{"s":"q13","t":0.4015,"i":-0.24},{"s":"q13","t":0.403,"i":-0.20},{"s":"q13","t":0.406,"i":-0.185},{"s":"q13","t":0.41,"i":-0.175},{"s":"q13","t":0.415,"i":-0.19},{"s":"q13","t":0.42,"i":-0.18},{"s":"q13","t":0.425,"i":-0.20},{"s":"q13","t":0.43,"i":-0.185},{"s":"q13","t":0.435,"i":-0.17},{"s":"q13","t":0.44,"i":-0.185},{"s":"q13","t":0.447,"i":-0.215},{"s":"q13","t":0.45,"i":-0.165},{"s":"q13","t":0.46,"i":-0.200},{"s":"q13","t":0.47,"i":-0.172},{"s":"q13","t":0.48,"i":-0.158},{"s":"q13","t":0.49,"i":-0.180},{"s":"q13","t":0.50,"i":-0.155},{"s":"q13","t":0.51,"i":-0.170},{"s":"q13","t":0.52,"i":-0.148},{"s":"q13","t":0.53,"i":-0.162},{"s":"q13","t":0.54,"i":-0.145},{"s":"q13","t":0.55,"i":-0.155},{"s":"q13","t":0.56,"i":-0.142},{"s":"q13","t":0.57,"i":-0.150},{"s":"q13","t":0.58,"i":-0.140},{"s":"q13","t":0.59,"i":-0.138},{"s":"q13","t":0.5995,"i":-0.137},{"s":"q13","t":0.6006,"i":-0.035},{"s":"q13","t":0.606,"i":-0.008},

        {"s":"z0","t":0.606,"i":0.004},{"s":"z0","t":0.610,"i":-0.003},{"s":"z0","t":0.614,"i":0.005},{"s":"z0","t":0.618,"i":-0.004},{"s":"z0","t":0.622,"i":0.002},{"s":"z0","t":0.626,"i":-0.005},{"s":"z0","t":0.630,"i":0.003},{"s":"z0","t":0.634,"i":-0.002},{"s":"z0","t":0.638,"i":0.004},{"s":"z0","t":0.642,"i":-0.003},{"s":"z0","t":0.646,"i":0.001},{"s":"z0","t":0.650,"i":-0.004},{"s":"z0","t":0.654,"i":0.003},{"s":"z0","t":0.658,"i":-0.002},{"s":"z0","t":0.662,"i":0.004},{"s":"z0","t":0.666,"i":-0.003},{"s":"z0","t":0.670,"i":0.002},{"s":"z0","t":0.674,"i":-0.004},{"s":"z0","t":0.678,"i":0.003},{"s":"z0","t":0.682,"i":-0.001},{"s":"z0","t":0.686,"i":0.002},{"s":"z0","t":0.690,"i":-0.003},{"s":"z0","t":0.694,"i":0.002},{"s":"z0","t":0.698,"i":-0.002},{"s":"z0","t":0.700,"i":0.001},

        {"s":"z1","t":0.604,"i":-0.006},{"s":"z1","t":0.608,"i":0.006},{"s":"z1","t":0.612,"i":-0.004},{"s":"z1","t":0.616,"i":0.002},{"s":"z1","t":0.620,"i":-0.005},{"s":"z1","t":0.624,"i":0.003},{"s":"z1","t":0.628,"i":-0.002},{"s":"z1","t":0.632,"i":0.004},{"s":"z1","t":0.636,"i":-0.003},{"s":"z1","t":0.640,"i":0.001},{"s":"z1","t":0.644,"i":-0.004},{"s":"z1","t":0.648,"i":0.003},{"s":"z1","t":0.652,"i":-0.002},{"s":"z1","t":0.656,"i":0.002},{"s":"z1","t":0.660,"i":-0.003},{"s":"z1","t":0.664,"i":0.004},{"s":"z1","t":0.668,"i":-0.002},{"s":"z1","t":0.672,"i":0.001},{"s":"z1","t":0.676,"i":-0.003},{"s":"z1","t":0.680,"i":0.003},{"s":"z1","t":0.684,"i":-0.002},{"s":"z1","t":0.688,"i":0.002},{"s":"z1","t":0.692,"i":-0.003},{"s":"z1","t":0.696,"i":0.001},{"s":"z1","t":0.700,"i":-0.002}
      ]},
      "mark": {"type": "line", "color": "#ff0000", "strokeWidth": 1.4, "clip": true},
      "encoding": {
        "x": {
          "field": "t",
          "type": "quantitative",
          "scale": {"domain": [0.002, 0.7], "nice": false, "zero": false},
          "axis": {"values": [0.1, 0.4, 0.6], "labelExpr": "toString(datum.value)", "labelPadding": 15, "titlePadding": 14},
          "title": "t [s]"
        },
        "y": {
          "field": "i",
          "type": "quantitative",
          "scale": {"domain": [-0.71, 0.85], "nice": false, "zero": false},
          "axis": {"values": [-0.6, -0.3, 0, 0.3, 0.6], "labelExpr": "toString(datum.value)", "labelPadding": 20, "titlePadding": 7},
          "title": "I [nA]"
        },
        "detail": {"field": "s"}
      }
    },
    {
      "data": {"values": [{"t": 0.698, "i": 0.838, "label": "35 °C\u00a0\u00a0Deactivation"}]},
      "mark": {"type": "text", "align": "right", "baseline": "alphabetic", "font": "DejaVu Sans", "fontSize": 19, "color": "black"},
      "encoding": {
        "x": {"field": "t", "type": "quantitative", "title": "t [s]"},
        "y": {"field": "i", "type": "quantitative", "title": "I [nA]"},
        "text": {"field": "label"}
      }
    },
    {
      "data": {"values": [{"t": 0.7147, "i": 0.072, "label": "BBP Channelpedia ID 31086 rep 1"}]},
      "mark": {"type": "text", "angle": 270, "align": "center", "baseline": "middle", "font": "DejaVu Sans", "fontSize": 13.5, "color": "black"},
      "encoding": {
        "x": {"field": "t", "type": "quantitative", "title": "t [s]"},
        "y": {"field": "i", "type": "quantitative", "title": "I [nA]"},
        "text": {"field": "label"}
      }
    }
  ]
}
